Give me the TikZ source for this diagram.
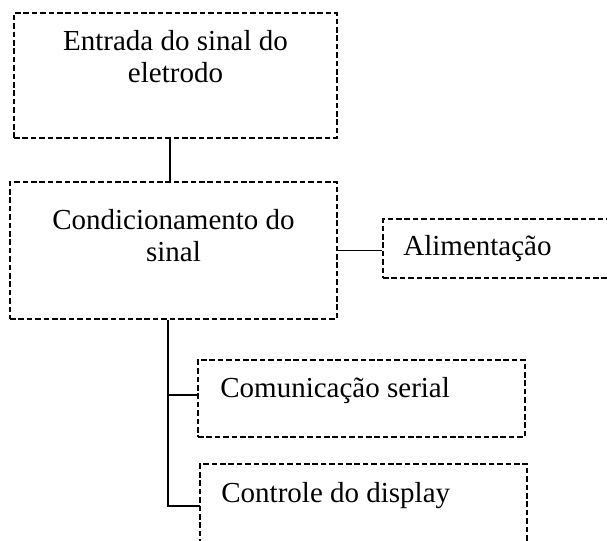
\documentclass[tikz,border=0pt]{standalone}
\usepackage{fontspec}
\setmainfont{Liberation Serif}
\begin{document}
\begin{tikzpicture}[x=0.5pt, y=-0.5pt,
        bloco/.style = {draw, rectangle, inner sep=0pt, line width=0.8pt, dash pattern=on 2.8pt off 1.4pt},
        texto/.style = {inner sep=0pt, align=center, font=\fontsize{14.5}{16}\selectfont},
        liga/.style = {draw, line width=0.55pt}]
    \useasboundingbox (0,0) rectangle (607,541);
    \clip (0,0) rectangle (607,541);
    % caixas
    \node[bloco, minimum width=161.5pt, minimum height=62.5pt] (entrada) at (175.5,75.5) {};
    \node[bloco, minimum width=163.5pt, minimum height=68.5pt] (cond) at (173.5,250.5) {};
    \node[bloco, minimum width=128.5pt, minimum height=29.5pt] (alim) at (511.5,248.5) {};
    \node[bloco, minimum width=163.5pt, minimum height=38.5pt] (serial) at (361.5,398.5) {};
    \node[bloco, minimum width=163.5pt, minimum height=68pt] (display) at (363.5,532) {};
    % textos
    \node[texto, anchor=north] (tentrada) at (175.5,30) {Entrada do sinal do\\eletrodo};
    \node[texto, anchor=north] (tcond) at (173.5,209) {Condicionamento do\\sinal};
    \node[texto, anchor=base west] (talim) at (403,255) {Alimentação};
    \node[texto, anchor=base west] (tserial) at (220,397) {Comunicação serial};
    \node[texto, anchor=base west] (tdisplay) at (221,502) {Controle do display};
    % ligacoes
    \coordinate (desce) at (170,0);
    \coordinate (tronco) at (168,506);
    \coordinate (eserial) at (198,395);
    \coordinate (edisplay) at (200,506);
    \draw[liga] (entrada.south -| desce) -- (cond.north -| desce);
    \draw[liga] (cond.east) -- (cond.east -| alim.west);
    \draw[liga] (cond.south -| tronco) -- (tronco) -- (edisplay);
    \draw[liga] (eserial -| tronco) -- (eserial);
\end{tikzpicture}
\end{document}
